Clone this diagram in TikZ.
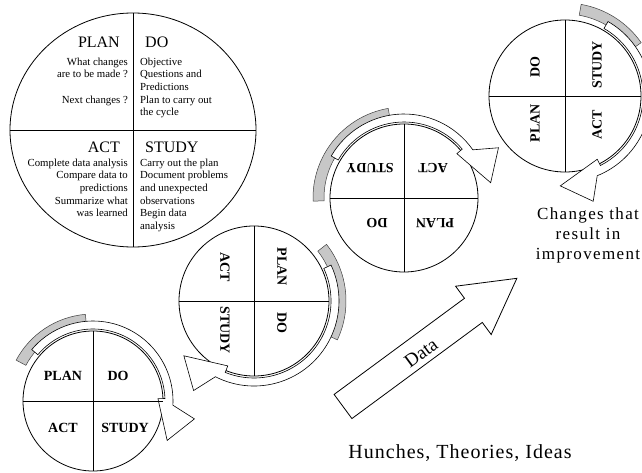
\documentclass[tikz,border=0pt]{standalone}
\usepackage{fontspec}
\setmainfont{Liberation Serif}
\usepackage{tikz}
\usetikzlibrary{shapes.geometric}

\tikzset{
    wheel/.style={circle, draw, line width=0.8pt, fill=white, inner sep=0pt},
    heading/.style={font=\fontsize{16}{19}\selectfont, inner sep=0pt},
    notes/.style={font=\fontsize{10.8}{12.7}\selectfont, inner sep=0pt},
    wlabel/.style={font=\bfseries\fontsize{14}{16}\selectfont, inner sep=0pt},
    shadowarc/.style={fill=black!22, draw=black!75, line width=0.5pt},
    cyclearrow/.style={fill=white, draw=black, line width=0.6pt}
}

\newcommand{\shadowband}[4]{%
    \pgfmathsetmacro{\sIn}{#2+6}%
    \pgfmathsetmacro{\sOut}{#2+17}%
    \draw[shadowarc] ([shift={(#3:\sOut pt)}]#1.center) arc[start angle=#3, end angle=#4, radius=\sOut pt]
        -- ([shift={(#4:\sIn pt)}]#1.center) arc[start angle=#4, end angle=#3, radius=\sIn pt] -- cycle;
}
\newcommand{\turnarrow}[4]{%
    \pgfmathsetmacro{\rIn}{#2+2}%
    \pgfmathsetmacro{\rOut}{#2+10}%
    \pgfmathsetmacro{\rBarb}{#2-5}%
    \pgfmathsetmacro{\rTip}{#2+14}%
    \pgfmathsetmacro{\rWing}{#2+33}%
    \pgfmathsetmacro{\aTip}{#4-30}%
    \pgfmathsetmacro{\aWing}{#4-12}%
    \pgfmathsetmacro{\aEnd}{#4-5}%
    \draw[cyclearrow] ([shift={(#3:\rIn pt)}]#1.center) arc[start angle=#3, end angle=#4, radius=\rIn pt]
        -- ([shift={(#4:\rBarb pt)}]#1.center) -- ([shift={(\aTip:\rTip pt)}]#1.center)
        -- ([shift={(\aWing:\rWing pt)}]#1.center) -- ([shift={(\aEnd:\rOut pt)}]#1.center)
        arc[start angle=\aEnd, end angle=#3, radius=\rOut pt] -- cycle;
}

\begin{document}
\begin{tikzpicture}[x=1pt, y=1pt]
    \useasboundingbox (0,0) rectangle (642,472);
    \fill[white] (0,0) rectangle (642,472);

    \node (wheel1) [ellipse, draw, line width=0.8pt, minimum width=246pt, minimum height=234pt, inner sep=0pt] at (133,342) {};
    \draw[line width=0.8pt] (wheel1.north) -- (wheel1.south);
    \draw[line width=0.8pt] (wheel1.west) -- (wheel1.east);
    \node (plan1) [heading, anchor=base east] at (120,424.7) {PLAN};
    \node (do1) [heading, anchor=base west] at (145,424.7) {DO};
    \node (act1) [heading, anchor=base east] at (120,319.7) {ACT};
    \node (study1) [heading, anchor=base west] at (145,319.7) {STUDY};
    \node (plannotes) [notes, align=right, anchor=north east] at (128,414.5) {What changes\\are to be made ?\\[12.7pt]Next changes ?};
    \node (donotes) [notes, align=left, anchor=north west] at (140,414.5) {Objective\\Questions and\\Predictions\\Plan to carry out\\the cycle};
    \node (actnotes) [notes, align=right, anchor=north east] at (128,313.5) {Complete data analysis\\Compare data to\\predictions\\Summarize what\\was learned};
    \node (studynotes) [notes, align=left, anchor=north west] at (140,313.5) {Carry out the plan\\Document problems\\and unexpected\\observations\\Begin data\\analysis};

    \node (wheel2) [wheel, minimum size=140pt] at (93,71) {};
    \node (wheel3) [wheel, minimum size=150pt] at (254,171) {};
    \node (wheel4) [wheel, minimum size=148pt] at (404,274) {};
    \node (wheel5) [wheel, minimum size=152pt] at (565,376) {};

    \shadowband{wheel2}{70}{152}{95}
    \shadowband{wheel3}{75}{38}{-25}
    \shadowband{wheel4}{74}{182}{100}
    \shadowband{wheel5}{76}{80}{35}
    \turnarrow{wheel2}{70}{140}{2}
    \turnarrow{wheel3}{75}{25}{-112}
    \turnarrow{wheel4}{74}{150}{40}
    \turnarrow{wheel5}{76}{60}{-63}

    \draw[line width=0.8pt] (wheel2.north) -- (wheel2.south);
    \draw[line width=0.8pt] (wheel2.west) -- (wheel2.east);
    \node (plan2) [wlabel] at (63,96) {PLAN};
    \node (do2) [wlabel] at (118,96) {DO};
    \node (act2) [wlabel] at (63,44) {ACT};
    \node (study2) [wlabel] at (125,44) {STUDY};

    \draw[line width=0.8pt] (wheel3.north) -- (wheel3.south);
    \draw[line width=0.8pt] (wheel3.west) -- (wheel3.east);
    \node (act3) [wlabel, rotate=-90] at (225,205) {ACT};
    \node (plan3) [wlabel, rotate=-90] at (282,205) {PLAN};
    \node (study3) [wlabel, rotate=-90] at (225,142) {STUDY};
    \node (do3) [wlabel, rotate=-90] at (282,149) {DO};

    \draw[line width=0.8pt] (wheel4.north) -- (wheel4.south);
    \draw[line width=0.8pt] (wheel4.west) -- (wheel4.east);
    \node (study4) [wlabel, rotate=180] at (370,304) {STUDY};
    \node (act4) [wlabel, rotate=180] at (433,304) {ACT};
    \node (do4) [wlabel, rotate=180] at (377,249) {DO};
    \node (plan4) [wlabel, rotate=180] at (435,249) {PLAN};

    \draw[line width=0.8pt] (wheel5.north) -- (wheel5.south);
    \draw[line width=0.8pt] (wheel5.west) -- (wheel5.east);
    \node (do5) [wlabel, rotate=90] at (535,405) {DO};
    \node (study5) [wlabel, rotate=90] at (597,407) {STUDY};
    \node (plan5) [wlabel, rotate=90] at (535,349) {PLAN};
    \node (act5) [wlabel, rotate=90] at (597,347) {ACT};

    \begin{scope}[shift={(343,65.5)}, rotate=36.4]
        \draw[line width=0.8pt, fill=white] (0,-15) -- (162,-15) -- (162,-30) -- (216,0) -- (162,30) -- (162,15) -- (0,15) -- cycle;
    \end{scope}
    \node (data) [font=\fontsize{19}{22}\selectfont, rotate=36.4, inner sep=0pt] at (421,119) {Data};

    \node (changes) [font=\fontsize{17}{20}\selectfont\addfontfeature{LetterSpace=8}, align=center] at (588,237) {Changes that\\result in\\improvement};
    \node (hunches) [font=\fontsize{20}{24}\selectfont\addfontfeature{LetterSpace=5}] at (460,19) {Hunches, Theories, Ideas};
\end{tikzpicture}
\end{document}
